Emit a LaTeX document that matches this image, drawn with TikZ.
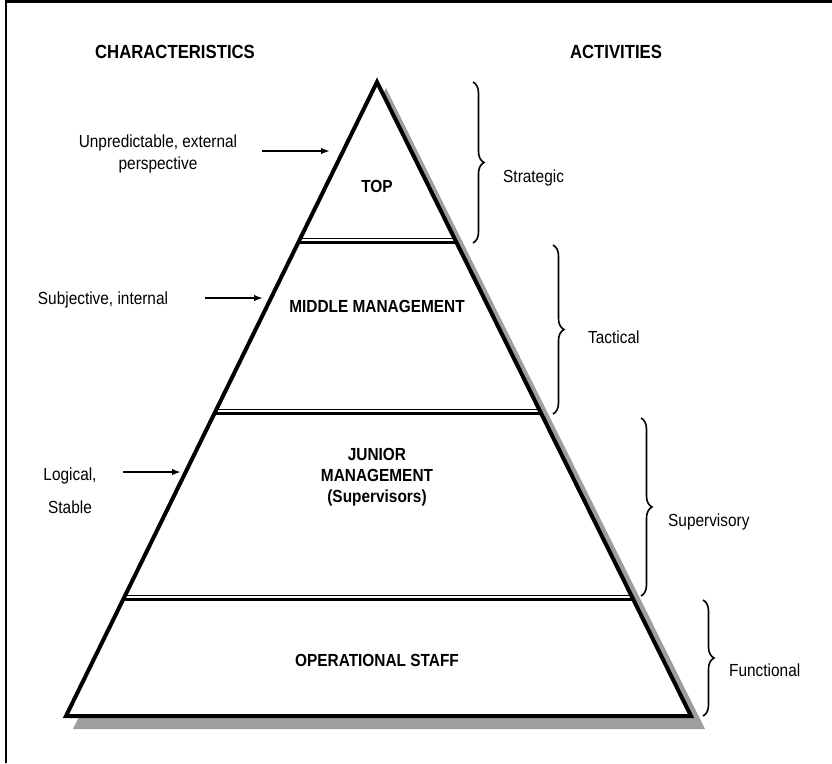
\documentclass[tikz,border=0pt]{standalone}
\usepackage{fontspec}
\setmainfont{Liberation Sans}[FakeStretch=0.88]
\usetikzlibrary{arrows.meta}
\usetikzlibrary{calc}
\usetikzlibrary{decorations.pathreplacing}
\usetikzlibrary{positioning}
\tikzset{note/.style = {font=\fontsize{17.5}{22}\selectfont, align=center, inner sep=0}}
\tikzset{level/.style = {font=\bfseries\fontsize{17.5}{21}\selectfont, align=center, inner sep=0}}
\tikzset{heading/.style = {font=\bfseries\fontsize{19}{22}\selectfont, inner sep=0}}
\tikzset{pointer/.style = {-{Latex[length=9pt,width=6.5pt]}, line width=1.8pt}}
\tikzset{bracket/.style = {decorate, decoration={brace, amplitude=11pt}, line width=1.6pt}}
\tikzset{shade/.style = {fill=black!38}}

\begin{document}
\begin{tikzpicture}[x=1pt, y=-1pt]
    \useasboundingbox (0, 0) rectangle (832, 763);
    \draw [line width=2.5pt] (6, 763) -- (6, 1.5) -- (832, 1.5);

    \coordinate (apex) at (377, 82);
    \coordinate (left) at (66, 716);
    \coordinate (right) at (691, 716);
    \fill [shade] (386, 88) -- (73, 729) -- (705, 729) -- cycle;
    \draw [line width=4pt, fill=white] (apex) -- (left) -- (right) -- cycle;
    \foreach \t/\s in {0.2524/0.2469, 0.5221/0.5166, 0.8155/0.8100} {
        \draw [line width=1.2pt] ($(apex)!\s!(left)$) -- ($(apex)!\s!(right)$);
        \draw [line width=3pt] ($(apex)!\t!(left)$) -- ($(apex)!\t!(right)$);
    }

    \node [heading] (char) at (175, 52) {CHARACTERISTICS};
    \node [heading] (act) at (616, 52) {ACTIVITIES};

    \node [level] (top) at (377, 186) {TOP};
    \node [level] (middle) at (377, 306) {MIDDLE MANAGEMENT};
    \node [level] (junior) at (377, 477) {JUNIOR\\MANAGEMENT\\(Supervisors)};
    \node [level] (staff) at (377, 660) {OPERATIONAL STAFF};

    \node [note] (unpred) at (158, 154) {Unpredictable, external\\perspective};
    \node [note] (subj) at (103, 300) {Subjective, internal};
    \node [note] (logic) at (70, 491) {Logical,\\[11pt]Stable};
    \coordinate (unpred tail) at (262, 151);
    \coordinate (unpred tip) at (330, 151);
    \coordinate (subj tail) at (205, 298);
    \coordinate (subj tip) at (263, 298);
    \coordinate (logic tail) at (123, 472);
    \coordinate (logic tip) at (181, 472);
    \draw [pointer] (unpred tail) -- (unpred tip);
    \draw [pointer] (subj tail) -- (subj tip);
    \draw [pointer] (logic tail) -- (logic tip);

    \draw [bracket] (473, 82) -- (473, 243);
    \draw [bracket] (553, 245) -- (553, 414);
    \draw [bracket] (641, 418) -- (641, 596);
    \draw [bracket] (703, 600) -- (703, 716);
    \node [note, anchor=west] (strategic) at (503, 178) {Strategic};
    \node [note, anchor=west] (tactical) at (588, 337) {Tactical};
    \node [note, anchor=west] (supervisory) at (668, 522) {Supervisory};
    \node [note, anchor=west] (functional) at (729, 670) {Functional};
\end{tikzpicture}
\end{document}
